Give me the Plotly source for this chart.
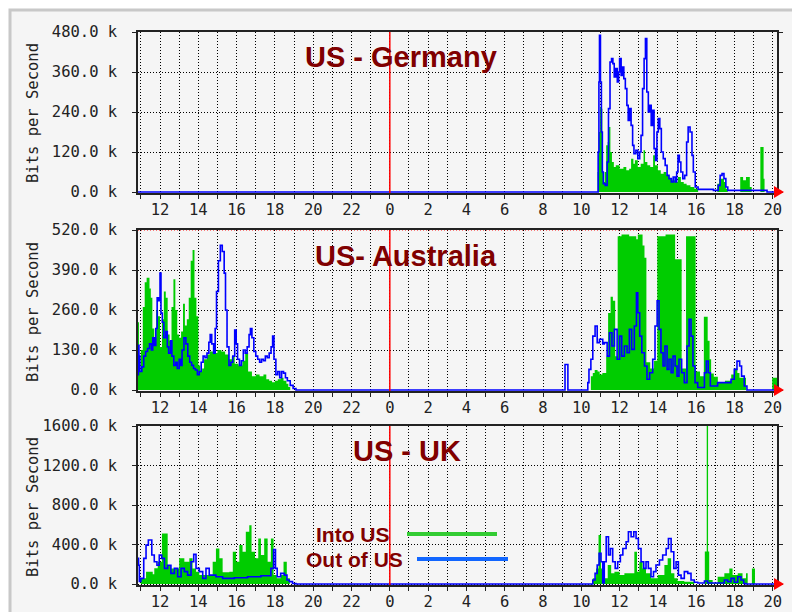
import plotly.graph_objects as go

FIG_W, FIG_H = 792, 612

# Time axis: hours counted from 00:00 of the first day (second day = 24 + hour)
X_RANGE = [10.85, 44.22]
MIDNIGHT = 24
HOUR_POS = [12, 14, 16, 18, 20, 22, 24, 26, 28, 30, 32, 34, 36, 38, 40, 42, 44]
HOUR_LABELS = ["12", "14", "16", "18", "20", "22", "0", "2", "4", "6",
               "8", "10", "12", "14", "16", "18", "20"]
ODD_HOURS = list(range(11, 45, 2))

DE_TICKS = [0, 120, 240, 360, 480]
DE_LABELS = ["0.0 k", "120.0 k", "240.0 k", "360.0 k", "480.0 k"]
AU_TICKS = [0, 130, 260, 390, 520]
AU_LABELS = ["0.0 k", "130.0 k", "260.0 k", "390.0 k", "520.0 k"]
UK_TICKS = [0, 400, 800, 1200, 1600]
UK_LABELS = ["0.0 k", "400.0 k", "800.0 k", "1200.0 k", "1600.0 k"]

# (hour, kbit/s) samples, each value held until the next sample
DE_INTO = [(10.85, 0), (34.85, 60), (34.88, 110), (34.92, 180), (34.98, 255), (35.05, 250),
           (35.1, 60), (35.15, 30), (35.22, 60), (35.3, 140), (35.38, 150), (35.45, 195),
           (35.52, 120), (35.6, 90), (35.7, 75), (35.8, 80), (36.0, 70), (36.2, 75),
           (36.35, 65), (36.5, 70), (36.6, 100), (36.72, 85), (36.8, 95), (36.95, 75),
           (37.1, 85), (37.25, 125), (37.33, 90), (37.45, 80), (37.6, 75), (37.75, 110),
           (37.85, 80), (38.0, 65), (38.15, 55), (38.3, 60), (38.45, 50), (38.6, 40),
           (38.75, 35), (38.9, 30), (39.05, 45), (39.2, 30), (39.35, 25), (39.5, 20),
           (39.7, 15), (39.9, 10), (40.1, 0), (41.1, 25), (41.2, 40), (41.45, 30),
           (41.55, 10), (41.65, 0), (42.3, 45), (42.45, 35), (42.6, 45), (42.8, 15),
           (42.9, 0), (43.35, 135), (43.52, 40), (43.57, 0), (44.22, 0)]

DE_OUT = [(10.85, 0), (34.85, 0), (34.88, 120), (34.92, 330), (34.95, 470), (35.0, 330),
          (35.05, 180), (35.1, 60), (35.15, 25), (35.25, 20), (35.35, 90), (35.42, 250),
          (35.5, 390), (35.58, 400), (35.65, 385), (35.72, 345), (35.8, 370), (35.88, 330),
          (35.95, 360), (36.0, 400), (36.08, 350), (36.15, 375), (36.22, 340), (36.3, 310),
          (36.38, 260), (36.45, 215), (36.52, 250), (36.6, 200), (36.68, 140), (36.75, 115),
          (36.85, 125), (36.95, 100), (37.05, 120), (37.12, 170), (37.2, 310), (37.28, 400),
          (37.35, 460), (37.42, 300), (37.5, 240), (37.58, 260), (37.65, 200), (37.72, 245),
          (37.8, 130), (37.88, 95), (37.95, 180), (38.02, 220), (38.1, 190), (38.18, 120),
          (38.28, 100), (38.38, 80), (38.48, 50), (38.58, 40), (38.7, 30), (38.8, 45),
          (38.9, 30), (38.98, 60), (39.05, 110), (39.12, 90), (39.2, 60), (39.3, 40),
          (39.4, 50), (39.5, 150), (39.58, 195), (39.68, 180), (39.78, 110), (39.85, 60),
          (39.95, 15), (40.1, 8), (40.9, 5), (41.15, 20), (41.25, 50), (41.35, 55),
          (41.45, 40), (41.55, 15), (41.65, 5), (43.6, 5), (43.7, 0), (44.22, 0)]

AU_INTO = [(10.85, 220), (10.9, 60), (11.0, 130), (11.1, 270), (11.2, 350), (11.3, 365),
           (11.45, 330), (11.52, 300), (11.6, 200), (11.7, 170), (11.8, 260), (11.9, 240),
           (12.0, 140), (12.1, 230), (12.2, 320), (12.3, 300), (12.4, 180), (12.5, 160),
           (12.6, 270), (12.7, 360), (12.8, 260), (12.9, 180), (13.0, 170), (13.1, 190),
           (13.2, 280), (13.3, 210), (13.4, 230), (13.5, 300), (13.6, 420), (13.7, 455),
           (13.8, 300), (13.9, 240), (14.0, 80), (14.1, 60), (14.2, 70), (14.3, 100),
           (14.45, 115), (14.6, 125), (14.8, 120), (15.0, 130), (15.2, 125), (15.4, 115),
           (15.6, 100), (15.75, 110), (15.9, 85), (16.1, 80), (16.3, 95), (16.45, 120),
           (16.6, 60), (16.8, 45), (17.0, 50), (17.2, 45), (17.4, 50), (17.55, 35),
           (17.7, 30), (17.85, 25), (18.0, 30), (18.15, 35), (18.3, 40), (18.45, 30),
           (18.6, 20), (18.7, 10), (18.8, 0),
           (34.5, 45), (34.6, 55), (34.7, 65), (34.85, 60), (34.96, 50), (35.1, 55),
           (35.3, 108), (35.4, 250), (35.53, 303), (35.65, 290), (35.77, 110), (35.9, 500),
           (36.1, 505), (36.5, 500), (36.87, 490), (36.95, 505), (37.2, 470), (37.3, 430),
           (37.4, 90), (37.6, 70), (37.8, 95), (37.97, 500), (38.4, 505), (38.9, 425),
           (39.24, 70), (39.47, 500), (39.97, 60), (40.2, 45), (40.4, 238), (40.6, 160),
           (40.7, 100), (40.78, 54), (40.92, 43), (41.13, 25), (41.5, 30), (41.83, 50),
           (42.0, 70), (42.15, 55), (42.26, 40), (42.6, 0), (43.97, 40), (44.22, 40)]

AU_OUT = [(10.85, 50), (10.87, 145), (10.9, 110), (10.95, 60), (11.05, 75), (11.15, 110),
          (11.25, 125), (11.35, 135), (11.45, 150), (11.55, 130), (11.62, 170), (11.7, 145),
          (11.78, 200), (11.85, 300), (11.92, 290), (12.0, 380), (12.05, 250), (12.12, 220),
          (12.2, 170), (12.3, 190), (12.38, 140), (12.45, 120), (12.55, 160), (12.62, 110),
          (12.72, 80), (12.82, 90), (12.9, 70), (13.0, 100), (13.08, 80), (13.15, 130),
          (13.25, 170), (13.35, 150), (13.45, 110), (13.55, 90), (13.65, 80), (13.75, 70),
          (13.85, 65), (13.95, 50), (14.05, 60), (14.15, 90), (14.25, 110), (14.35, 105),
          (14.45, 120), (14.55, 155), (14.62, 180), (14.7, 150), (14.8, 120), (14.88, 200),
          (14.95, 320), (15.05, 420), (15.15, 470), (15.25, 450), (15.35, 380), (15.42, 260),
          (15.5, 140), (15.6, 80), (15.7, 90), (15.8, 110), (15.9, 195), (15.98, 150),
          (16.05, 100), (16.15, 80), (16.25, 95), (16.35, 130), (16.45, 120), (16.55, 140),
          (16.65, 180), (16.72, 200), (16.8, 170), (16.9, 125), (17.0, 110), (17.1, 100),
          (17.2, 90), (17.3, 100), (17.4, 95), (17.5, 110), (17.6, 105), (17.7, 120),
          (17.8, 140), (17.88, 175), (17.95, 100), (18.05, 50), (18.15, 60), (18.25, 40),
          (18.35, 60), (18.45, 55), (18.55, 40), (18.65, 30), (18.8, 15), (18.95, 5),
          (19.1, 0),
          (33.15, 83), (33.3, 0), (34.34, 24), (34.4, 67), (34.5, 100), (34.6, 175),
          (34.72, 208), (34.83, 154), (34.95, 165), (35.12, 150), (35.2, 154), (35.35, 110),
          (35.47, 186), (35.6, 143), (35.73, 197), (35.87, 100), (36.0, 175), (36.11, 110),
          (36.25, 143), (36.39, 121), (36.51, 197), (36.63, 132), (36.77, 208), (36.88, 316),
          (36.95, 251), (37.05, 175), (37.16, 121), (37.3, 78), (37.43, 35), (37.57, 56),
          (37.73, 100), (37.85, 208), (37.96, 290), (38.06, 197), (38.16, 121), (38.27, 78),
          (38.37, 143), (38.48, 67), (38.58, 100), (38.69, 56), (38.79, 110), (38.9, 78),
          (39.0, 45), (39.1, 100), (39.24, 56), (39.38, 24), (39.52, 143), (39.63, 230),
          (39.73, 175), (39.83, 78), (39.94, 24), (40.08, 8), (40.43, 56), (40.53, 94),
          (40.63, 56), (40.74, 13), (41.12, 24), (41.82, 35), (41.99, 67), (42.13, 94),
          (42.27, 78), (42.37, 45), (42.51, 13), (42.65, 0), (44.22, 0)]

UK_INTO = [(10.85, 0), (11.0, 57), (11.27, 125), (11.62, 100), (11.7, 160), (11.88, 225),
           (12.1, 512), (12.4, 190), (12.57, 158), (13.0, 260), (13.27, 225), (13.53, 260),
           (13.7, 158), (13.88, 125), (14.05, 90), (14.75, 225), (14.92, 360), (15.1, 260),
           (15.27, 120), (15.62, 125), (15.8, 327), (15.97, 225), (16.14, 394), (16.31, 327),
           (16.48, 529), (16.66, 596), (16.78, 327), (16.96, 260), (17.13, 461), (17.27, 293),
           (17.44, 461), (17.62, 225), (17.79, 461), (17.93, 90), (18.1, 57), (18.3, 90),
           (18.45, 225), (18.62, 57), (18.78, 0),
           (34.6, 57), (34.77, 158), (34.9, 495), (35.03, 158), (35.2, 57), (35.38, 192),
           (35.56, 108), (35.73, 125), (36.0, 90), (36.25, 108), (36.77, 327), (36.91, 125),
           (37.03, 225), (37.2, 158), (37.38, 108), (37.64, 57), (37.99, 90), (38.34, 192),
           (38.51, 260), (38.69, 108), (38.86, 57), (39.03, 30), (39.38, 24), (39.9, 0),
           (40.45, 330), (40.55, 1600), (40.62, 330), (40.68, 40), (40.86, 7), (41.12, 74),
           (41.47, 108), (41.73, 158), (41.9, 90), (42.17, 108), (42.42, 57), (42.6, 108),
           (42.69, 0), (42.91, 158), (43.07, 0), (44.22, 0)]

UK_OUT = [(10.85, 260), (10.88, 190), (10.92, 25), (11.0, 57), (11.15, 260), (11.27, 394),
          (11.39, 445), (11.57, 293), (11.7, 225), (11.84, 190), (11.96, 293), (12.09, 260),
          (12.23, 158), (12.4, 190), (12.57, 108), (12.75, 158), (12.92, 74), (13.1, 158),
          (13.27, 125), (13.44, 90), (13.62, 225), (13.76, 300), (13.88, 158), (14.05, 125),
          (14.23, 57), (14.4, 158), (14.57, 90), (14.92, 74), (15.27, 57), (15.88, 64),
          (16.57, 74), (17.27, 84), (17.79, 158), (17.93, 350), (18.03, 158), (18.12, 74),
          (18.3, 108), (18.49, 90), (18.63, 40), (18.75, 24), (18.92, 5), (19.1, 0),
          (34.6, 40), (34.72, 108), (34.83, 192), (34.93, 310), (35.03, 225), (35.12, 10),
          (35.2, 225), (35.3, 478), (35.42, 293), (35.52, 360), (35.64, 225), (35.77, 158),
          (35.9, 225), (36.04, 293), (36.17, 360), (36.34, 428), (36.46, 529), (36.6, 478),
          (36.74, 529), (36.86, 461), (36.98, 360), (37.12, 225), (37.26, 158), (37.38, 225),
          (37.5, 158), (37.64, 74), (37.77, 125), (37.9, 192), (38.08, 243), (38.25, 293),
          (38.43, 360), (38.55, 461), (38.69, 327), (38.83, 158), (38.95, 225), (39.07, 90),
          (39.21, 57), (39.38, 125), (39.56, 108), (39.73, 40), (39.9, 17), (40.08, 10),
          (40.43, 30), (40.6, 10), (41.47, 40), (41.64, 24), (41.82, 57), (41.99, 17),
          (42.17, 74), (42.34, 40), (42.48, 5), (42.6, 0), (44.22, 0)]

TITLES = ["US - Germany", "US- Australia", "US - UK"]
SERIES_NAMES = ["Into US", "Out of US"]

INTO_GREEN = "#00cc00"
OUT_BLUE = "#0000ff"
TITLE_RED = "#800000"
INK = "#222222"
PANEL_BG = "#f5f5f5"

MONO = "DejaVu Sans Mono"
SANS = "Liberation Sans, Arial"


def px_x(x):
    return x / FIG_W


def px_y(y):
    return 1 - y / FIG_H


# pixel boxes of the three panels: (top, bottom)
PLOT_LEFT, PLOT_RIGHT = 138, 777
panels = [
    dict(top=32, bottom=193, ymax=480, ticks=DE_TICKS, labels=DE_LABELS,
         into=DE_INTO, out=DE_OUT, title_xy=(401, 57), ylab_y=113),
    dict(top=230, bottom=391, ymax=520, ticks=AU_TICKS, labels=AU_LABELS,
         into=AU_INTO, out=AU_OUT, title_xy=(406, 256), ylab_y=312),
    dict(top=426, bottom=585, ymax=1600, ticks=UK_TICKS, labels=UK_LABELS,
         into=UK_INTO, out=UK_OUT, title_xy=(407, 451), ylab_y=507),
]

fig = go.Figure()
shapes, annotations = [], []

dot = "1px,2px"
tick_font = dict(family=MONO, size=15.5, color=INK)

for i, p in enumerate(panels, start=1):
    xa = "x" if i == 1 else f"x{i}"
    ya = "y" if i == 1 else f"y{i}"
    h = p["bottom"] - p["top"]
    ymin = -p["ymax"] / (h - 1)

    tx, vx = zip(*p["into"])
    fig.add_trace(go.Scatter(
        x=tx, y=vx, mode="lines", line=dict(shape="hv", width=0, color=INTO_GREEN),
        fill="tozeroy", fillcolor=INTO_GREEN, name=SERIES_NAMES[0], showlegend=False,
        xaxis=xa, yaxis=ya, hoverinfo="skip"))
    to, vo = zip(*p["out"])
    fig.add_trace(go.Scatter(
        x=to, y=vo, mode="lines", line=dict(shape="hv", width=1.6, color=OUT_BLUE),
        name=SERIES_NAMES[1], showlegend=False, xaxis=xa, yaxis=ya, hoverinfo="skip"))

    xkey = "xaxis" if i == 1 else f"xaxis{i}"
    ykey = "yaxis" if i == 1 else f"yaxis{i}"
    fig.layout[xkey] = dict(
        domain=[px_x(PLOT_LEFT), px_x(PLOT_RIGHT)], range=X_RANGE, anchor=ya,
        automargin=False,
        tickmode="array", tickvals=HOUR_POS, ticktext=HOUR_LABELS,
        ticks="outside", ticklen=4, tickcolor=INK, tickfont=tick_font,
        ticklabelstandoff=-2,
        showgrid=True, gridcolor="#000000", gridwidth=1, griddash=dot,
        minor=dict(tickmode="array", tickvals=ODD_HOURS, ticks="outside", ticklen=4,
                   tickcolor=INK, showgrid=True, gridcolor="#000000", gridwidth=1,
                   griddash=dot),
        showline=True, mirror=True, linecolor=INK, linewidth=1.5, zeroline=False,
        fixedrange=True)
    fig.layout[ykey] = dict(
        domain=[px_y(p["bottom"]), px_y(p["top"])], range=[ymin, p["ymax"]], anchor=xa,
        automargin=False,
        tickmode="array", tickvals=p["ticks"], ticktext=p["labels"],
        ticks="outside", ticklen=4, tickcolor=INK, tickfont=tick_font,
        ticklabelstandoff=12,
        showgrid=True, gridcolor="#000000", gridwidth=1, griddash=dot,
        showline=True, mirror="ticks", linecolor=INK, linewidth=1.5, zeroline=False,
        fixedrange=True)

    # midnight marker
    shapes.append(dict(type="line", xref=xa, yref=f"{ya} domain", x0=MIDNIGHT, x1=MIDNIGHT,
                       y0=0, y1=1, line=dict(color="#ff0000", width=1.5), layer="above"))
    # arrow at the end of the time axis
    yb = p["bottom"] - 1
    shapes.append(dict(type="path", xref="paper", yref="paper",
                       path=(f"M{px_x(774)},{px_y(yb - 6)} L{px_x(784)},{px_y(yb)} "
                             f"L{px_x(774)},{px_y(yb + 6)} Z"),
                       fillcolor="#ff0000", line=dict(width=0), layer="above"))

    annotations.append(dict(text=f"<b>{TITLES[i - 1]}</b>", xref="paper", yref="paper",
                            x=px_x(p["title_xy"][0]), y=px_y(p["title_xy"][1]),
                            xanchor="center", yanchor="middle", showarrow=False,
                            font=dict(family=SANS, size=29, color=TITLE_RED)))
    annotations.append(dict(text="Bits per Second", xref="paper", yref="paper",
                            x=px_x(33), y=px_y(p["ylab_y"]), textangle=-90,
                            xanchor="center", yanchor="middle", showarrow=False,
                            font=dict(family=MONO, size=15.5, color=INK)))

# dotted maximum line on the Australia panel
shapes.append(dict(type="line", xref="x2 domain", yref="y2", x0=0, x1=1, y0=520, y1=520,
                   line=dict(color="#ff0000", width=1, dash="1px,2px"), layer="above"))

# outer frame of the page
shapes.insert(0, dict(type="rect", xref="paper", yref="paper", x0=px_x(10), x1=1.02,
                      y0=-0.02, y1=px_y(10), fillcolor=PANEL_BG,
                      line=dict(color="#c8c8c8", width=3), layer="below"))

# legend drawn inside the UK panel
legend_rows = [(SERIES_NAMES[0], 353, 534, 407, 497, "#33cc33"),
               (SERIES_NAMES[1], 354, 559, 417, 508, "#1166ff")]
for name, tx_, ty_, lx0, lx1, col in legend_rows:
    annotations.append(dict(text=f"<b>{name}</b>", xref="paper", yref="paper",
                            x=px_x(tx_), y=px_y(ty_), xanchor="center", yanchor="middle",
                            showarrow=False, font=dict(family=SANS, size=21, color=TITLE_RED)))
    shapes.append(dict(type="line", xref="paper", yref="paper", x0=px_x(lx0), x1=px_x(lx1),
                       y0=px_y(ty_), y1=px_y(ty_), line=dict(color=col, width=4),
                       layer="above"))

fig.update_layout(width=FIG_W, height=FIG_H, autosize=False,
                  margin=dict(l=0, r=0, t=0, b=0, autoexpand=False),
                  paper_bgcolor="#ffffff", plot_bgcolor=PANEL_BG,
                  shapes=shapes, annotations=annotations, showlegend=False)

fig.write_html("out.html", config=dict(displayModeBar=False, responsive=False),
               post_script="document.body.style.margin='0';"
                           "document.body.style.overflow='hidden';")
